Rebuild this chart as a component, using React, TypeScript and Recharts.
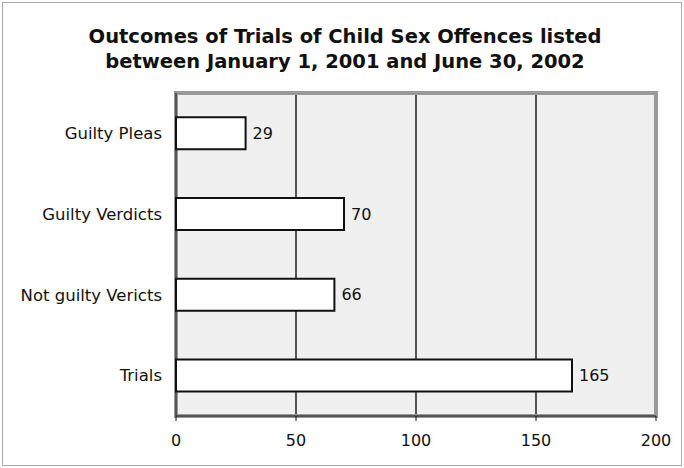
import { BarChart, Bar, XAxis, YAxis, CartesianGrid, LabelList, ReferenceArea } from 'recharts';

const categories = ['Guilty Pleas', 'Guilty Verdicts', 'Not guilty Vericts', 'Trials'];
const counts = [29, 70, 66, 165];
const xTicks = [0, 50, 100, 150, 200];

const data = categories.map((name, i) => ({ name, value: counts[i] }));

const font = '"DejaVu Sans", Verdana, sans-serif';

export default function App() {
  return (
    <div style={{ position: 'absolute', left: 0, top: 0, width: 684, height: 468, background: '#fff', fontFamily: font }}>
      {/* outer frame */}
      <div style={{ position: 'absolute', left: 2, top: 2, right: 2, bottom: 2, border: '1px solid #aaa' }} />
      <div
        style={{
          position: 'absolute',
          left: 0,
          width: 690,
          top: 24,
          textAlign: 'center',
          fontWeight: 'bold',
          fontSize: 19.5,
          lineHeight: '25px',
          color: '#111',
        }}
      >
        Outcomes of Trials of Child Sex Offences listed
        <br />
        between January 1, 2001 and June 30, 2002
      </div>
      <BarChart
        width={684}
        height={468}
        data={data}
        layout="vertical"
        margin={{ top: 93, right: 28, bottom: 22, left: 0 }}
        barCategoryGap="30%"
        style={{ position: 'absolute', left: 0, top: 0 }}
      >
        <CartesianGrid horizontal={false} stroke="#000" strokeWidth={1.3} fill="#f0f0f0" />
        <ReferenceArea x1={0} x2={200} fill="none" stroke="#9a9a9a" strokeWidth={4} ifOverflow="extendDomain" />
        <XAxis
          type="number"
          domain={[0, 200]}
          ticks={xTicks}
          height={30}
          axisLine={{ stroke: '#111' }}
          tickLine={{ stroke: '#111' }}
          tickSize={5}
          tickMargin={14}
          tick={{ fill: '#111', fontSize: 16, fontFamily: font }}
        />
        <YAxis
          type="category"
          dataKey="name"
          width={176}
          axisLine={{ stroke: '#111' }}
          tickLine={false}
          tickMargin={8}
          tick={{ fill: '#111', fontSize: 16.5, fontFamily: font }}
        />
        <Bar dataKey="value" fill="#fff" stroke="#111" strokeWidth={2} isAnimationActive={false}>
          <LabelList dataKey="value" position="right" offset={7} fill="#111" fontSize={16} fontFamily={font} />
        </Bar>
      </BarChart>
    </div>
  );
}
